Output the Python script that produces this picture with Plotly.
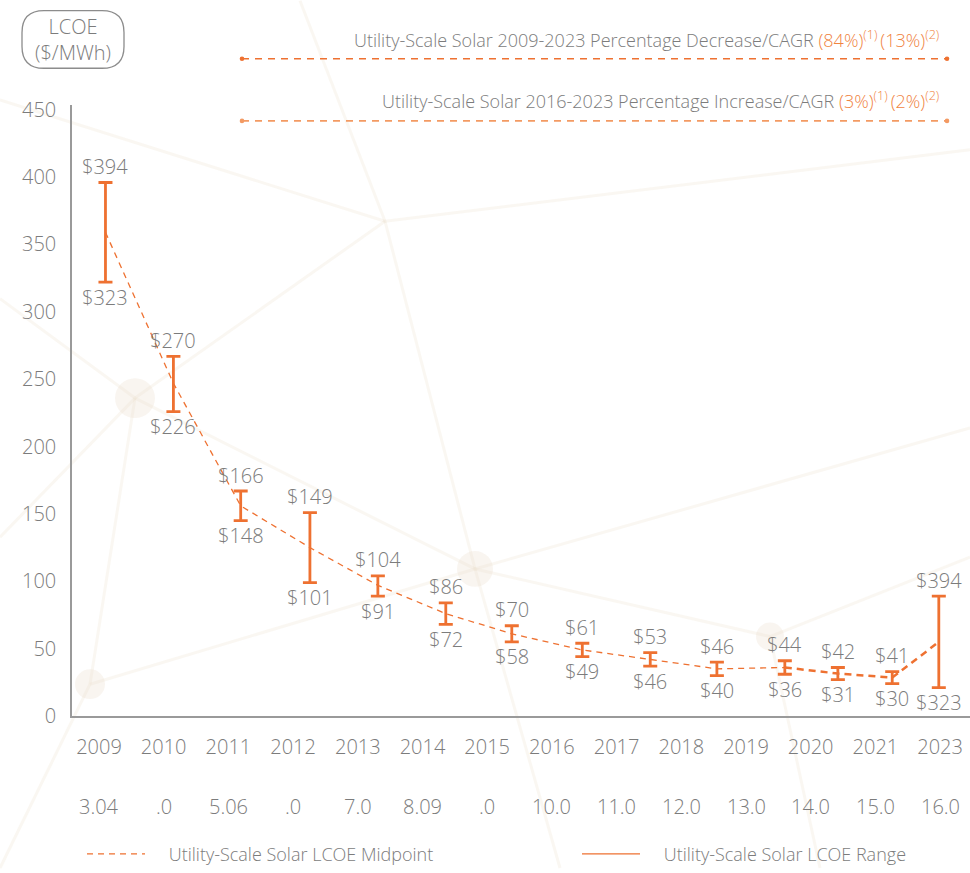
import plotly.graph_objects as go

# ---------------- data ----------------
years = ["2009", "2010", "2011", "2012", "2013", "2014", "2015",
         "2016", "2017", "2018", "2019", "2020", "2021", "2023"]
sub_labels = ["3.04", ".0", "5.06", ".0", "7.0", "8.09", ".0",
              "10.0", "11.0", "12.0", "13.0", "14.0", "15.0", "16.0"]
# horizontal position of each range bar on the category scale
bar_pos = [0.10, 1.15, 2.19, 3.26, 4.31, 5.36, 6.38,
           7.47, 8.52, 9.55, 10.60, 11.42, 12.26, 12.98]
range_high = [396, 267, 167, 151, 104, 84, 67, 54, 47, 40, 41, 36, 33, 89]
range_low = [322, 226, 145, 99, 89, 68, 55, 44, 37, 30, 31, 27, 24, 21]
midpoint = [359, 247, 156, 125, 97, 76, 61, 49, 42, 35, 36, 31.5, 28.5, 55]
label_high = ["$394", "$270", "$166", "$149", "$104", "$86", "$70",
              "$61", "$53", "$46", "$44", "$42", "$41", "$394"]
label_low = ["$323", "$226", "$148", "$101", "$91", "$72", "$58",
             "$49", "$46", "$40", "$36", "$31", "$30", "$323"]
y_ticks = [0, 50, 100, 150, 200, 250, 300, 350, 400, 450]

# ---------------- style ----------------
ORANGE = "#EE7131"
ORANGE_TXT = "#F0843F"
ORANGE_LIGHT = "#F39A63"
GRAY = "#7C7C7C"
AXIS = "#9A9A9A"
FONT = "Open Sans"
WEIGHT = 300
BG_LINE = "rgba(232,218,198,0.22)"
BG_NODE = "rgba(236,222,204,0.30)"

W, H = 970, 873
L, R, T, B = 72, 0, 105, 153
PW, PH = W - L - R, H - T - B


def px(x):
    return (x - L) / PW


def py(y):
    return (H - B - y) / PH


def fnt(size, color=GRAY):
    return dict(family=FONT, size=size, color=color, weight=WEIGHT)


fig = go.Figure()

# midpoint dashed line (thin part, then heavier part at the end)
fig.add_trace(go.Scatter(
    x=bar_pos[:11], y=midpoint[:11], mode="lines",
    line=dict(color=ORANGE, width=1.3, dash="6px,5px"),
    showlegend=False, hoverinfo="skip"))
fig.add_trace(go.Scatter(
    x=bar_pos[10:], y=midpoint[10:], mode="lines",
    line=dict(color=ORANGE, width=2.5, dash="7px,5px"),
    showlegend=False, hoverinfo="skip"))

# range bars (I-beams)
fig.add_trace(go.Scatter(
    x=bar_pos, y=range_low, mode="markers",
    marker=dict(size=1, opacity=0),
    error_y=dict(type="data", symmetric=False,
                 array=[h - l for h, l in zip(range_high, range_low)],
                 arrayminus=[0] * len(range_low),
                 color=ORANGE, thickness=2.8, width=7),
    showlegend=False, hoverinfo="skip"))

# legend entries (two separate legends to reproduce the wide spacing)
NB = "\u00a0" * 4
fig.add_trace(go.Scatter(
    x=[None], y=[None], mode="lines", name=NB + "Utility-Scale Solar LCOE Midpoint",
    line=dict(color=ORANGE, width=1.3, dash="6px,5px"), legend="legend"))
fig.add_trace(go.Scatter(
    x=[None], y=[None], mode="lines", name=NB + "Utility-Scale Solar LCOE Range",
    line=dict(color=ORANGE, width=1.3), legend="legend2"))

annotations = []
# value labels above / below each range
for xv, yv, t in zip(bar_pos, range_high, label_high):
    annotations.append(dict(x=xv, y=yv, xref="x", yref="y", text=t, showarrow=False,
                            xanchor="center", yanchor="middle", yshift=16, font=fnt(20)))
for xv, yv, t in zip(bar_pos, range_low, label_low):
    annotations.append(dict(x=xv, y=yv, xref="x", yref="y", text=t, showarrow=False,
                            xanchor="center", yanchor="middle", yshift=-15, font=fnt(20)))

# second row of category labels
for i, s in enumerate(sub_labels):
    annotations.append(dict(
        x=i, xref="x", y=py(811), yref="paper", text=s, showarrow=False,
        font=fnt(20), xanchor="center", yanchor="middle"))

# axis unit label in rounded box
annotations.append(dict(
    x=px(73), y=py(39), xref="paper", yref="paper",
    text="LCOE<br>($/MWh)", showarrow=False, align="center",
    font=fnt(20), xanchor="center", yanchor="middle"))

# header statistics
sup = "<sup>(%s)</sup>"
annotations.append(dict(
    x=px(941), y=py(39), xref="paper", yref="paper", showarrow=False,
    xanchor="right", yanchor="middle",
    text="Utility-Scale Solar 2009-2023 Percentage Decrease/CAGR "
         "<span style='color:%s'>(84%%)%s\u2009(13%%)%s</span>" % (ORANGE_TXT, sup % 1, sup % 2),
    font=fnt(18)))
annotations.append(dict(
    x=px(941), y=py(100), xref="paper", yref="paper", showarrow=False,
    xanchor="right", yanchor="middle",
    text="Utility-Scale Solar 2016-2023 Percentage Increase/CAGR "
         "<span style='color:%s'>(3%%)%s\u2009(2%%)%s</span>" % (ORANGE_TXT, sup % 1, sup % 2),
    font=fnt(18)))

shapes = []
# faint decorative background network
bg_lines = [((300, 0), (385, 222)), ((385, 222), (475, 572)), ((135, 400), (385, 222)),
            ((135, 400), (475, 572)), ((0, 300), (135, 400)), ((90, 688), (135, 400)),
            ((90, 688), (475, 572)), ((475, 572), (970, 430)), ((475, 572), (770, 640)),
            ((770, 640), (970, 560)), ((475, 572), (560, 873)), ((770, 640), (820, 873)),
            ((385, 222), (970, 150)), ((90, 688), (0, 873)), ((135, 400), (0, 540)),
            ((0, 100), (385, 222))]
for (x0, y0), (x1, y1) in bg_lines:
    shapes.append(dict(type="line", xref="paper", yref="paper", layer="below",
                       x0=px(x0), y0=py(y0), x1=px(x1), y1=py(y1),
                       line=dict(color=BG_LINE, width=3)))
for cx, cy, r in [(135, 400, 20), (475, 572, 18), (90, 688, 15), (770, 640, 14)]:
    shapes.append(dict(type="circle", xref="paper", yref="paper", layer="below",
                       x0=px(cx - r), x1=px(cx + r), y0=py(cy + r), y1=py(cy - r),
                       fillcolor=BG_NODE, line=dict(width=0)))

# rounded box around unit label
bx0, bx1, by0, by1, rr = 22, 124, 10, 68, 22
rx, ry = rr / PW, rr / PH
X0, X1, Y0, Y1 = px(bx0), px(bx1), py(by1), py(by0)
path = (f"M{X0 + rx},{Y0} L{X1 - rx},{Y0} Q{X1},{Y0} {X1},{Y0 + ry} "
        f"L{X1},{Y1 - ry} Q{X1},{Y1} {X1 - rx},{Y1} L{X0 + rx},{Y1} "
        f"Q{X0},{Y1} {X0},{Y1 - ry} L{X0},{Y0 + ry} Q{X0},{Y0} {X0 + rx},{Y0} Z")
shapes.append(dict(type="path", xref="paper", yref="paper", path=path,
                   line=dict(color="#8C8C8C", width=1.3)))

# header dashed rules with end dots
for yy, col in [(58.5, ORANGE), (121, ORANGE_LIGHT)]:
    shapes.append(dict(type="line", xref="paper", yref="paper",
                       x0=px(242), x1=px(947), y0=py(yy), y1=py(yy),
                       line=dict(color=col, width=1.6, dash="7px,6px")))
    for xx in (242, 947):
        shapes.append(dict(type="circle", xref="paper", yref="paper",
                           x0=px(xx - 2.3), x1=px(xx + 2.3),
                           y0=py(yy + 2.3), y1=py(yy - 2.3),
                           fillcolor=col, line=dict(width=0)))

legend_common = dict(orientation="h", xanchor="left", yanchor="middle",
                     font=fnt(18), itemwidth=58, bgcolor="rgba(0,0,0,0)")

fig.update_layout(
    width=W, height=H,
    margin=dict(l=L, r=R, t=T, b=B),
    paper_bgcolor="white", plot_bgcolor="rgba(0,0,0,0)",
    font=fnt(16),
    showlegend=True,
    legend=dict(x=px(82), y=py(859), **legend_common),
    legend2=dict(x=px(577), y=py(859), **legend_common),
    annotations=annotations,
    shapes=shapes,
    xaxis=dict(range=[(L - 99) / 64.7, (W - R - 99) / 64.7],
               tickmode="array", tickvals=list(range(len(years))), ticktext=years,
               showgrid=False, zeroline=False, showline=True,
               linecolor=AXIS, linewidth=1.5, ticks="",
               ticklabelstandoff=12, tickfont=fnt(20)),
    yaxis=dict(range=[0, PH / 1.356], tickmode="array", tickvals=y_ticks,
               showgrid=False, zeroline=False, showline=True,
               linecolor=AXIS, linewidth=1.5, ticks="",
               ticklabelstandoff=10, tickfont=fnt(20)),
)

fig.write_html(
    "out.html",
    config={"displayModeBar": False},
    post_script="document.body.style.margin='0';document.body.style.overflow='hidden';",
)
